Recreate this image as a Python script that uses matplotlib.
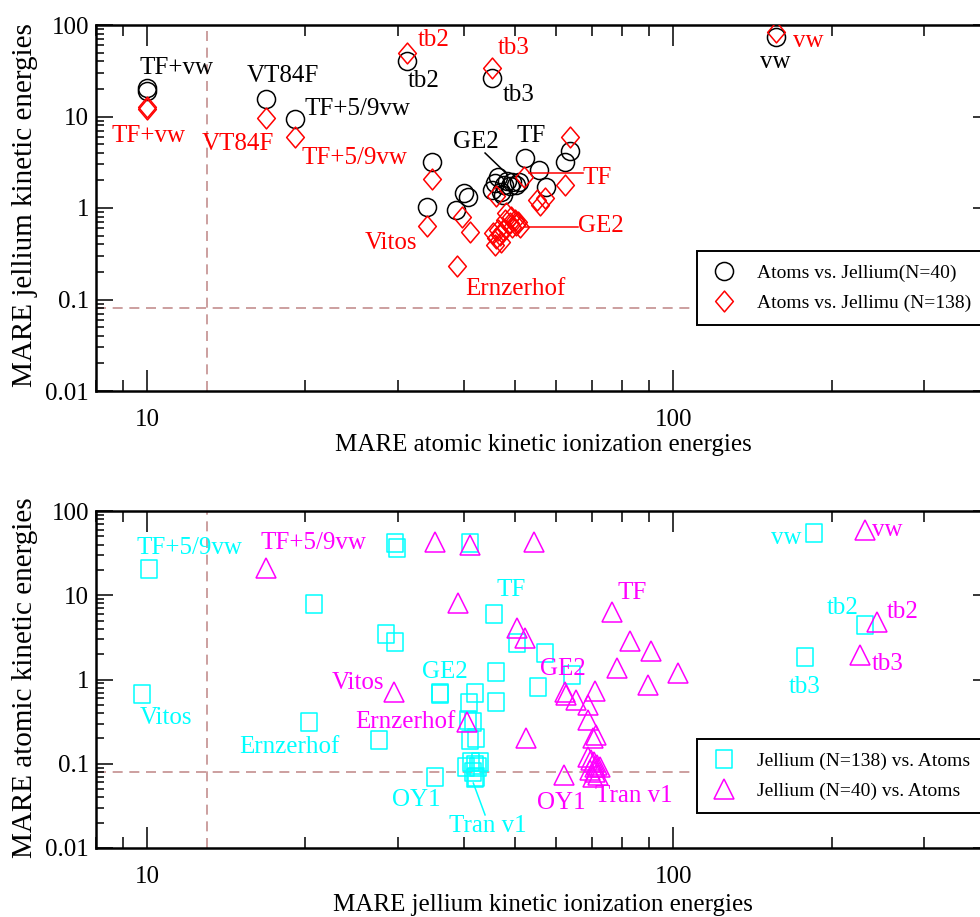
import matplotlib
matplotlib.use("Agg")
import matplotlib.pyplot as plt
from matplotlib.path import Path
from matplotlib.ticker import LogLocator, NullFormatter

plt.rcParams['font.family'] = ['Liberation Serif', 'DejaVu Serif']

# ---- top panel: MARE atomic (x) vs MARE jellium (y)
circ_x = [10.0, 10.0, 16.8, 19.1, 31.2, 45.2, 157.0, 34.8, 34.0, 38.6, 40.0, 40.8,
          45.2, 45.8, 46.4, 47.0, 47.6, 48.3, 48.9, 49.5, 50.2, 50.9, 47.4,
          52.2, 55.7, 57.2, 62.2, 63.8]
circ_y = [19.0, 20.5, 15.5, 9.4, 40.4, 26.3, 74.0, 3.18, 1.03, 0.95, 1.46, 1.32,
          1.57, 1.88, 2.18, 1.50, 1.78, 1.97, 1.74, 1.93, 1.78, 1.93, 1.40,
          3.5, 2.6, 1.7, 3.18, 4.2]
diam_x = [10.0, 10.0, 16.8, 19.1, 31.2, 45.2, 157.0, 34.8, 34.0, 39.7, 41.1, 38.8,
          46.0, 52.0, 55.0, 55.9, 57.1, 62.2, 63.8,
          45.4, 46.0, 45.8, 46.8, 47.4, 47.9, 48.1, 48.9, 49.1, 49.5, 50.0, 50.2,
          50.7, 51.1, 47.0, 46.4]
diam_y = [12.0, 12.8, 9.6, 6.0, 49.4, 33.8, 84.0, 2.07, 0.64, 0.80, 0.547, 0.23,
          1.35, 2.18, 1.22, 1.08, 1.29, 1.78, 6.0,
          0.533, 0.47, 0.394, 0.51, 0.575, 0.74, 0.88, 0.685, 0.80, 0.62, 0.74, 0.65,
          0.70, 0.62, 0.425, 0.575]

# ---- bottom panel: MARE jellium (x) vs MARE atomic (y)
sq_x = [10.1, 9.8, 20.8, 20.3, 27.6, 28.5, 29.6, 29.6, 29.9, 41.1, 45.7, 50.5, 57.1,
        46.1, 64.3, 55.4, 36.0, 36.1, 42.0, 46.1, 40.9, 40.7, 41.7, 42.2, 41.1,
        41.3, 42.0, 42.6, 40.4, 41.7, 42.2, 42.0, 43.0, 35.3, 185.0, 231.0, 178.0]
sq_y = [20.5, 0.67, 7.9, 0.31, 0.19, 3.47, 2.79, 41.7, 36.4, 41.7, 6.0, 2.71, 2.06,
        1.23, 1.13, 0.815, 0.69, 0.67, 0.69, 0.54, 0.52, 0.33, 0.315, 0.20, 0.19,
        0.105, 0.0955, 0.0913, 0.0913, 0.0798, 0.0696, 0.0678, 0.105, 0.070,
        54.8, 4.4, 1.85]
tri_x = [16.8, 35.2, 41.1, 54.5, 39.0, 76.6, 50.5, 52.3, 82.8, 90.8, 78.3, 102.2,
         89.7, 29.5, 40.5, 52.5, 62.1,
         62.3, 62.5, 65.4, 71.1, 68.9, 68.9, 70.5, 71.4,
         68.9, 69.8, 70.8, 71.7, 72.6, 69.5, 71.1, 72.0, 70.5, 71.1,
         231.0, 244.0, 226.0]
tri_y = [21.0, 42.9, 39.5, 42.9, 8.1, 6.3, 4.1, 3.1, 2.9, 2.2, 1.37, 1.19,
         0.86, 0.71, 0.31, 0.20, 0.074,
         0.71, 0.655, 0.57, 0.73, 0.497, 0.331, 0.202, 0.217,
         0.120, 0.111, 0.105, 0.0955, 0.0913, 0.0846, 0.0798, 0.0738, 0.0696, 0.0913,
         59.5, 4.8, 1.96]

# method names written next to the points (text, x, y, colour)
top_labels = [
    ("TF+vw", 9.66, 33.9, 'black'), ("VT84F", 15.5, 27.7, 'black'),
    ("TF+5/9vw", 19.9, 12.1, 'black'), ("tb2", 31.3, 24.5, 'black'),
    ("tb3", 47.4, 17.2, 'black'), ("vw", 146, 39.4, 'black'),
    ("GE2", 38.1, 5.26, 'black'), ("TF", 50.4, 6.1, 'black'),
    ("TF+vw", 8.55, 6.1, 'red'), ("VT84F", 12.7, 5.0, 'red'),
    ("TF+5/9vw", 19.7, 3.5, 'red'), ("tb2", 32.7, 68.5, 'red'),
    ("tb3", 46.4, 56.1, 'red'), ("vw", 169, 66.8, 'red'),
    ("TF", 67.3, 2.13, 'red'), ("GE2", 65.8, 0.636, 'red'),
    ("Vitos", 25.9, 0.414, 'red'), ("Ernzerhof", 40.2, 0.130, 'red'),
]
top_lines = [((43.9, 48.5), (3.99, 2.30), 'black'),
             ((53.3, 67.3), (2.41, 2.41), 'red'),
             ((52.3, 65.8), (0.62, 0.62), 'red')]

bot_labels = [
    ("TF+5/9vw", 9.57, 36.4, 'cyan'), ("Vitos", 9.70, 0.349, 'cyan'),
    ("Ernzerhof", 14.96, 0.158, 'cyan'), ("GE2", 33.3, 1.23, 'cyan'),
    ("TF", 46.1, 11.5, 'cyan'), ("OY1", 29.2, 0.0371, 'cyan'),
    ("Tran v1", 37.5, 0.0182, 'cyan'), ("vw", 153.5, 47.8, 'cyan'),
    ("tb2", 196, 7.06, 'cyan'), ("tb3", 166, 0.815, 'cyan'),
    ("TF+5/9vw", 16.4, 41.7, 'magenta'), ("Vitos", 22.4, 0.909, 'magenta'),
    ("Ernzerhof", 24.9, 0.313, 'magenta'), ("GE2", 55.8, 1.33, 'magenta'),
    ("TF", 78.3, 10.6, 'magenta'), ("OY1", 55.1, 0.0342, 'magenta'),
    ("Tran v1", 71.1, 0.0414, 'magenta'), ("vw", 239, 59.5, 'magenta'),
    ("tb2", 255, 6.3, 'magenta'), ("tb3", 238, 1.53, 'magenta'),
]
bot_lines = [((41.7, 43.9), (0.059, 0.0247), 'cyan')]

diamond = Path([(0, 1), (0.85, 0), (0, -1), (-0.85, 0), (0, 1)], closed=True)
rect = Path([(-0.87, -1), (0.87, -1), (0.87, 1), (-0.87, 1), (-0.87, -1)], closed=True)

W, H = 980, 917
fig = plt.figure(figsize=(9.8, 9.17), dpi=100)
ax1 = fig.add_axes([96 / W, 1 - 391 / H, 894 / W, 366 / H])
ax2 = fig.add_axes([96 / W, 1 - 848 / H, 894 / W, 337 / H])

ax1.plot(circ_x, circ_y, 'o', ms=13, mfc='none', mec='black', mew=1.1,
         label='Atoms vs. Jellium(N=40)', zorder=3)
ax1.plot(diam_x, diam_y, ls='none', marker=diamond, ms=15, mfc='none', mec='red',
         mew=1.1, label='Atoms vs. Jellimu (N=138)', zorder=4)
ax2.plot(sq_x, sq_y, ls='none', marker=rect, ms=13, mfc='none', mec='cyan', mew=1.1,
         label='Jellium (N=138) vs. Atoms', zorder=3)
ax2.plot(tri_x, tri_y, '^', ms=14, mfc='none', mec='magenta', mew=1.1,
         label='Jellium (N=40) vs. Atoms', zorder=4)

for ax, labels, lines in [(ax1, top_labels, top_lines), (ax2, bot_labels, bot_lines)]:
    ax.set_xscale('log')
    ax.set_yscale('log')
    ax.set_xlim(8, 400)
    ax.set_ylim(0.01, 100)
    ax.axvline(13, color='#c48f8f', lw=1.2, dashes=(6, 4), zorder=1)
    ax.axhline(0.08, color='#c48f8f', lw=1.2, dashes=(6, 4), zorder=1)
    for txt, x, y, c in labels:
        ax.text(x, y, txt, color=c, fontsize=18, ha='left', va='center', zorder=5)
    for xs, ys, c in lines:
        ax.plot(xs, ys, color=c, lw=1.1, zorder=5)
    ax.set_xticks([10, 100], ['10', '100'])
    ax.xaxis.set_minor_locator(LogLocator(base=10, subs=range(2, 10)))
    ax.xaxis.set_minor_formatter(NullFormatter())
    ax.set_yticks([0.01, 0.1, 1, 10, 100], ['0.01', '0.1', '1', '10', '100'])
    ax.yaxis.set_minor_locator(LogLocator(base=10, subs=range(2, 10)))
    ax.yaxis.set_minor_formatter(NullFormatter())
    ax.tick_params(axis='x', which='major', direction='in', length=15, width=1.1,
                   top=True, labelsize=18, pad=13)
    ax.tick_params(axis='x', which='minor', direction='in', length=8, width=1.1, top=True)
    ax.tick_params(axis='y', which='major', direction='in', length=12, width=1.1,
                   right=True, labelsize=18, pad=5)
    ax.tick_params(axis='y', which='minor', direction='in', length=6, width=1.1, right=True)
    for s in ax.spines.values():
        s.set_linewidth(1.8)
    leg = ax.legend(loc='upper left', fontsize=14, frameon=True, fancybox=False,
                    framealpha=1, edgecolor='black', borderpad=0.7, handlelength=1.4,
                    handletextpad=1.0, labelspacing=0.6, borderaxespad=0,
                    bbox_transform=fig.transFigure,
                    bbox_to_anchor=(697 / W, 1 - (251 if ax is ax1 else 739) / H))
    leg.get_frame().set_linewidth(1.4)
    leg.set_zorder(10)

fig.text(543 / W, 1 - 445 / H, 'MARE atomic kinetic ionization energies',
         fontsize=18, ha='center', va='center')
fig.text(543 / W, 1 - 905 / H, 'MARE jellium kinetic ionization energies',
         fontsize=18, ha='center', va='center')
fig.text(25 / W, 1 - 205 / H, 'MARE jellium kinetic energies', fontsize=21,
         rotation=90, ha='center', va='center')
fig.text(25 / W, 1 - 678 / H, 'MARE atomic kinetic energies', fontsize=21,
         rotation=90, ha='center', va='center')

fig.savefig('out.png', dpi=100)
